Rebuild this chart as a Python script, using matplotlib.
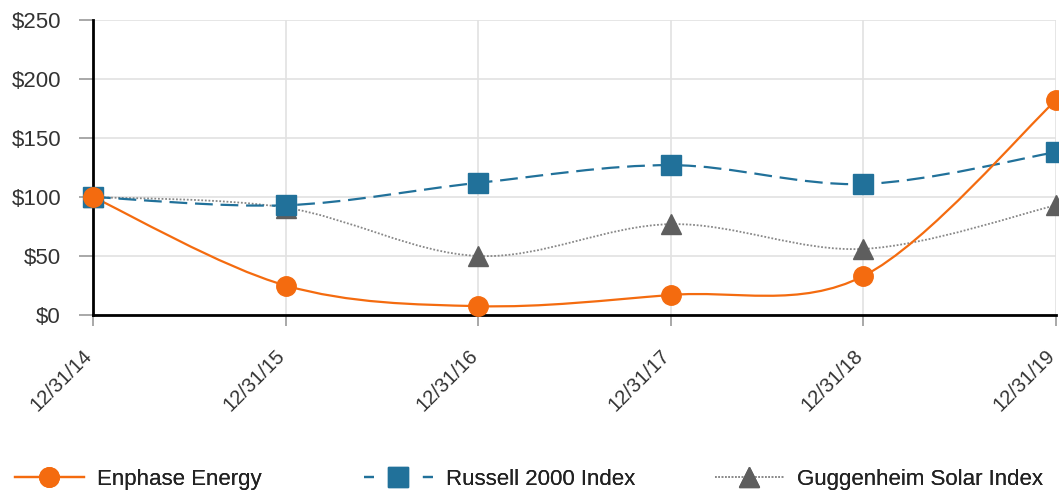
import matplotlib.pyplot as plt
import matplotlib.transforms as mtransforms
from matplotlib.path import Path
from matplotlib.patches import PathPatch
from matplotlib.lines import Line2D

plt.rcParams['font.family'] = ['Liberation Sans', 'DejaVu Sans']

# 数据
dates = ['12/31/14', '12/31/15', '12/31/16', '12/31/17', '12/31/18', '12/31/19']
enphase = [100, 25, 7.5, 17, 33, 182]
russell = [100, 93, 112, 127, 111, 138]
guggenheim = [100, 91, 50, 77, 56, 93]
y_ticks = [0, 50, 100, 150, 200, 250]

orange = '#F46B0F'
blue = '#21719A'
grey = '#5E5E5E'


def spline_path(xs, ys):
    # 平滑曲线 (Catmull-Rom 转换为贝塞尔)
    n = len(xs)
    verts = [(xs[0], ys[0])]
    codes = [Path.MOVETO]
    for i in range(n - 1):
        x0, y0 = (xs[i - 1], ys[i - 1]) if i > 0 else (xs[i], ys[i])
        x1, y1 = xs[i], ys[i]
        x2, y2 = xs[i + 1], ys[i + 1]
        x3, y3 = (xs[i + 2], ys[i + 2]) if i + 2 < n else (x2, y2)
        c1 = (x1 + (x2 - x0) / 6, y1 + (y2 - y0) / 6)
        c2 = (x2 - (x3 - x1) / 6, y2 - (y3 - y1) / 6)
        verts += [c1, c2, (x2, y2)]
        codes += [Path.CURVE4] * 3
    return Path(verts, codes)


fig = plt.figure(figsize=(10.59, 4.9), dpi=100)
ax = fig.add_axes([93 / 1059, (490 - 315) / 490, (1056 - 93) / 1059, (315 - 20) / 490])

xs = list(range(len(dates)))
series = [
    (guggenheim, grey, (0, (1, 1)), 1.3, '^', '#888888'),
    (russell, blue, (0, (8, 3.5)), 1.6, 's', blue),
    (enphase, orange, '-', 1.6, 'o', orange),
]
for vals, col, ls, lw, mk, lcol in series:
    p = PathPatch(spline_path(xs, vals), fill=False, edgecolor=lcol, linestyle=ls, linewidth=lw, zorder=3)
    ax.add_patch(p)
    ax.plot(xs, vals, linestyle='none', marker=mk, markersize=14, color=col, markeredgecolor=col,
            clip_on=False, zorder=4)

ax.set_xlim(0, len(dates) - 1)
ax.set_ylim(0, 250)
ax.set_yticks(y_ticks)
ax.set_yticklabels([f'${v}' for v in y_ticks], fontsize=16, color='#333333')
ax.set_xticks(xs)
ax.set_xticklabels(dates, fontsize=14.5, color='#333333', rotation=45, ha='right',
                   rotation_mode='anchor', va='bottom')
ax.tick_params(axis='x', length=8, width=1.2, color='#999999', pad=24)
ax.tick_params(axis='y', length=10, width=1.2, color='#999999', pad=13)
# x 标签略微右移
offset = mtransforms.ScaledTranslation(3 / 100, 0, fig.dpi_scale_trans)
for lbl in ax.get_xticklabels():
    lbl.set_transform(lbl.get_transform() + offset)
ax.grid(True, color='#e2e2e2', linewidth=1.2)
ax.set_axisbelow(True)
for s in ['top', 'right']:
    ax.spines[s].set_visible(False)
for s in ['left', 'bottom']:
    ax.spines[s].set_linewidth(2)
    ax.spines[s].set_color('black')

# 图例
legend_items = [
    (Line2D([], [], color=orange, linestyle='-', linewidth=1.6, marker='o', markersize=14), 'Enphase Energy', 15),
    (Line2D([], [], color=blue, linestyle=(0, (4.5, 22)), linewidth=1.6, marker='s', markersize=14), 'Russell 2000 Index', 364),
    (Line2D([], [], color='#888888', linestyle=(0, (1, 1)), linewidth=1.2, marker='^', markersize=14,
            markerfacecolor=grey, markeredgecolor=grey), 'Guggenheim Solar Index', 715),
]
for h, label, xpix in legend_items:
    leg = fig.legend([h], [label], loc='center left', bbox_to_anchor=(xpix / 1059, 1 - 479 / 490),
                     frameon=False, fontsize=16, handlelength=3.1, handletextpad=0.6,
                     borderaxespad=0, borderpad=0, labelcolor='#222222')
    fig.add_artist(leg)

fig.savefig('out.png', dpi=100)
